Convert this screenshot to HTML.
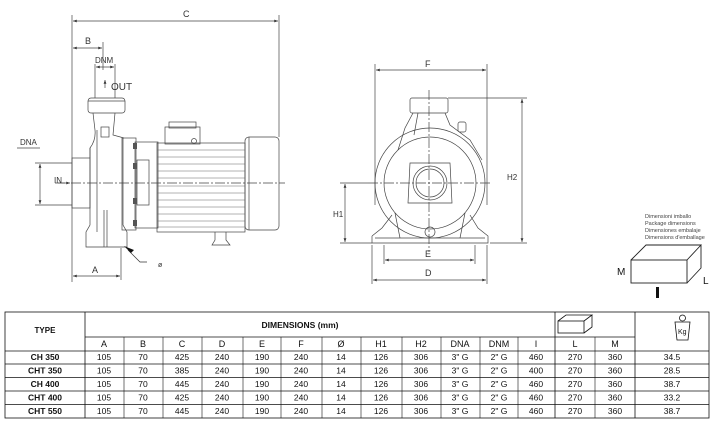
<!DOCTYPE html>
<html><head><meta charset="utf-8"><style>
html,body{margin:0;padding:0;background:#fff;}
svg{display:block;font-family:"Liberation Sans",sans-serif;}
</style></head><body>
<svg width="714" height="429" viewBox="0 0 714 429" xmlns="http://www.w3.org/2000/svg">
<defs>
<marker id="a" viewBox="0 0 8 6" refX="8" refY="3" markerWidth="6" markerHeight="4" orient="auto-start-reverse"><path d="M0,0L8,3L0,6z" fill="#333"/></marker>
</defs>
<g stroke="#444" stroke-width="0.7" fill="none">
<!-- LEFT VIEW extension & dims -->
<line x1="72" y1="15" x2="72" y2="282"/>
<line x1="279" y1="15" x2="279" y2="137"/>
<line x1="73" y1="21" x2="278" y2="21" marker-start="url(#a)" marker-end="url(#a)"/>
<line x1="103" y1="42" x2="103" y2="70"/>
<line x1="73" y1="48" x2="102" y2="48" marker-start="url(#a)" marker-end="url(#a)"/>
<line x1="95" y1="64" x2="95" y2="98"/><line x1="115" y1="64" x2="115" y2="98"/>
<line x1="96" y1="67" x2="114" y2="67" marker-start="url(#a)" marker-end="url(#a)"/>
<line x1="105" y1="88" x2="105" y2="80" marker-end="url(#a)"/>
<line x1="17" y1="148" x2="40" y2="148"/>
<line x1="35" y1="163" x2="72" y2="163"/><line x1="35" y1="205" x2="72" y2="205"/>
<line x1="40" y1="164" x2="40" y2="204" marker-start="url(#a)" marker-end="url(#a)"/>
<line x1="121" y1="248" x2="121" y2="280"/>
<line x1="73" y1="276" x2="120" y2="276" marker-start="url(#a)" marker-end="url(#a)"/>
<line x1="55" y1="183" x2="285" y2="183" stroke-dasharray="10,2,2,2"/>
<line x1="58" y1="183" x2="70" y2="183" marker-end="url(#a)"/>
<!-- pump -->
<rect x="88" y="98" width="37" height="15" rx="3"/>
<line x1="88" y1="101" x2="125" y2="101"/>
<path d="M93,113 L95,130 Q96,140 90,148 L90,158 M115,113 L113,135 L124,138"/>
<rect x="72" y="158" width="18" height="50"/>
<path d="M90,148 L90,225 L86,232 L86,247 L127,247 L127,232 L123,225 L123,138"/>
<line x1="97" y1="130" x2="97" y2="232"/><line x1="104" y1="210" x2="104" y2="247"/><line x1="107" y1="210" x2="107" y2="247"/>
<rect x="101" y="127" width="8" height="10"/>
<rect x="122" y="138" width="14" height="92"/>
<rect x="135" y="142" width="23" height="86"/>
<rect x="137" y="160" width="12" height="45"/>
<rect x="157" y="143" width="88" height="89"/>
<rect x="165" y="127" width="35" height="17"/>
<rect x="169" y="122" width="27" height="6"/>
<circle cx="194" cy="141" r="2.5"/>
<rect x="245" y="137" width="34" height="93" rx="4"/>
<line x1="249" y1="137" x2="249" y2="230"/>
<path d="M215,232 L215,240 L212,245 L230,245 L226,240 L226,232"/>
</g>
<g stroke="#666" stroke-width="0.5">
<line x1="157" y1="150" x2="245" y2="150"/><line x1="157" y1="157" x2="245" y2="157"/><line x1="157" y1="164" x2="245" y2="164"/><line x1="157" y1="171" x2="245" y2="171"/><line x1="157" y1="178" x2="245" y2="178"/><line x1="157" y1="186" x2="245" y2="186"/><line x1="157" y1="193" x2="245" y2="193"/><line x1="157" y1="200" x2="245" y2="200"/><line x1="157" y1="207" x2="245" y2="207"/><line x1="157" y1="214" x2="245" y2="214"/><line x1="157" y1="221" x2="245" y2="221"/><line x1="157" y1="227" x2="245" y2="227"/>
</g>
<g fill="#555"><rect x="133" y="143" width="4" height="6"/><rect x="133" y="163" width="4" height="6"/><rect x="133" y="198" width="4" height="6"/><rect x="133" y="220" width="4" height="6"/></g>
<path d="M147,262 L140,262 L128,250" stroke="#333" stroke-width="0.7" fill="none"/>
<path d="M124,246 L134,250 L131,253z" fill="#111"/>
<!-- RIGHT VIEW -->
<g stroke="#444" stroke-width="0.7" fill="none">
<line x1="375" y1="64" x2="375" y2="205"/><line x1="487" y1="64" x2="487" y2="205"/>
<line x1="376" y1="70" x2="486" y2="70" marker-start="url(#a)" marker-end="url(#a)"/>
<line x1="448" y1="98" x2="527" y2="98"/><line x1="490" y1="243" x2="527" y2="243"/>
<line x1="522" y1="99" x2="522" y2="242" marker-start="url(#a)" marker-end="url(#a)"/>
<line x1="340" y1="183" x2="368" y2="183"/><line x1="340" y1="243" x2="372" y2="243"/>
<line x1="345" y1="184" x2="345" y2="242" marker-start="url(#a)" marker-end="url(#a)"/>
<line x1="384" y1="245" x2="384" y2="264"/><line x1="475" y1="245" x2="475" y2="264"/>
<line x1="385" y1="260" x2="474" y2="260" marker-start="url(#a)" marker-end="url(#a)"/>
<line x1="372" y1="245" x2="372" y2="284"/><line x1="487" y1="245" x2="487" y2="284"/>
<line x1="373" y1="280" x2="486" y2="280" marker-start="url(#a)" marker-end="url(#a)"/>
<line x1="429" y1="90" x2="429" y2="252" stroke-dasharray="10,2,2,2"/>
<line x1="368" y1="183" x2="492" y2="183" stroke-dasharray="10,2,2,2"/>
<rect x="410" y="98" width="38" height="15" rx="2"/>
<path d="M413,113 L405,128 L398,150 M445,113 L450,125 L470,140 L482,160"/>
<path d="M418,113 L414,135"/>
<circle cx="430" cy="183" r="55"/>
<circle cx="430" cy="183" r="46"/>
<path d="M410,163 L450,163 L452,203 L408,203z"/>
<circle cx="430" cy="183" r="17"/><circle cx="430" cy="183" r="14"/>
<rect x="458" y="122" width="8" height="10" rx="2"/>
<path d="M372,236 L372,243 L488,243 L488,236 L478,228 L470,215 M372,236 L382,228 L392,215"/>
<line x1="375" y1="238" x2="485" y2="238"/>
<circle cx="430" cy="232" r="5"/>
<line x1="395" y1="213" x2="400" y2="238"/><line x1="465" y1="213" x2="460" y2="238"/>
<!-- package box -->
<rect x="631" y="260" width="56" height="23" stroke="#222" stroke-width="0.9"/>
<path d="M631,260 L646,245 L701,245 L687,260 M701,245 L701,268 L687,283" stroke="#222" stroke-width="0.9"/>
</g>
<rect x="656" y="287" width="3" height="11" fill="#111"/>
<g fill="#333" font-size="9">
<text x="183" y="17">C</text><text x="85" y="44">B</text><text x="95" y="63" font-size="8">DNM</text>
<text x="111" y="90" font-size="10">OUT</text><text x="20" y="145" font-size="8">DNA</text>
<text x="54" y="183" font-size="8">IN</text><text x="158" y="267" font-size="7">ø</text>
<text x="92" y="273">A</text>
<text x="425" y="67">F</text><text x="507" y="180" font-size="8">H2</text><text x="333" y="217" font-size="8">H1</text>
<text x="425" y="257">E</text><text x="425" y="276">D</text>
<text x="617" y="275" font-size="10" fill="#111">M</text><text x="703" y="284" font-size="10" fill="#111">L</text>
</g>
<g fill="#444" font-size="5.5"><text x="645" y="218">Dimensioni imballo</text><text x="645" y="225">Package dimensions</text><text x="645" y="232">Dimensiones embalaje</text><text x="645" y="239">Dimensions d'emballage</text></g>
<!-- TABLE -->
<g stroke="#111" stroke-width="0.8" fill="none">
<rect x="5" y="312" width="704" height="106"/>
<line x1="85" y1="312" x2="85" y2="418"/><line x1="555" y1="312" x2="555" y2="418"/><line x1="635" y1="312" x2="635" y2="418"/>
<line x1="85" y1="337" x2="635" y2="337"/>
<line x1="5" y1="351" x2="709" y2="351"/><line x1="5" y1="364" x2="709" y2="364"/><line x1="5" y1="377.5" x2="709" y2="377.5"/><line x1="5" y1="391" x2="709" y2="391"/><line x1="5" y1="404.5" x2="709" y2="404.5"/>
</g>
<g stroke="#111" stroke-width="0.6">
<line x1="124" y1="337" x2="124" y2="418"/><line x1="163" y1="337" x2="163" y2="418"/><line x1="202" y1="337" x2="202" y2="418"/><line x1="243" y1="337" x2="243" y2="418"/><line x1="281" y1="337" x2="281" y2="418"/><line x1="322" y1="337" x2="322" y2="418"/><line x1="361" y1="337" x2="361" y2="418"/><line x1="402" y1="337" x2="402" y2="418"/><line x1="441" y1="337" x2="441" y2="418"/><line x1="480" y1="337" x2="480" y2="418"/><line x1="518" y1="337" x2="518" y2="418"/><line x1="595" y1="337" x2="595" y2="418"/>
</g>
<g stroke="#111" stroke-width="0.8" fill="none">
<rect x="558" y="321" width="26" height="12"/><path d="M558,321 L566,315 L592,315 L584,321 M592,315 L592,327 L584,333"/>
<path d="M675,322 L690,322 L688,340 L677,340z"/><circle cx="682.5" cy="318" r="3"/>
</g>
<text x="678" y="334" font-size="7" fill="#111">Kg</text>
<g fill="#111" font-size="9" text-anchor="middle">
<text x="45" y="333" font-weight="bold" font-size="8">TYPE</text>
<text x="300" y="328" font-weight="bold" font-size="8.5">DIMENSIONS (mm)</text>
<text x="104" y="347">A</text><text x="143" y="347">B</text><text x="182" y="347">C</text><text x="222" y="347">D</text><text x="262" y="347">E</text><text x="301" y="347">F</text><text x="341" y="347">Ø</text><text x="381" y="347">H1</text><text x="421" y="347">H2</text><text x="460" y="347">DNA</text><text x="499" y="347">DNM</text><text x="536" y="347">I</text><text x="575" y="347">L</text><text x="615" y="347">M</text>
</g>
<g fill="#111" font-size="8.5" text-anchor="middle">
<g font-weight="bold"><text x="45" y="360">CH 350</text><text x="45" y="373.5">CHT 350</text><text x="45" y="387">CH 400</text><text x="45" y="400.5">CHT 400</text><text x="45" y="414">CHT 550</text></g>
<text x="104" y="360">105</text><text x="143" y="360">70</text><text x="182" y="360">425</text><text x="222" y="360">240</text><text x="262" y="360">190</text><text x="301" y="360">240</text><text x="341" y="360">14</text><text x="381" y="360">126</text><text x="421" y="360">306</text><text x="460" y="360">3" G</text><text x="499" y="360">2" G</text><text x="536" y="360">460</text><text x="575" y="360">270</text><text x="615" y="360">360</text><text x="672" y="360">34.5</text>
<text x="104" y="373.5">105</text><text x="143" y="373.5">70</text><text x="182" y="373.5">385</text><text x="222" y="373.5">240</text><text x="262" y="373.5">190</text><text x="301" y="373.5">240</text><text x="341" y="373.5">14</text><text x="381" y="373.5">126</text><text x="421" y="373.5">306</text><text x="460" y="373.5">3" G</text><text x="499" y="373.5">2" G</text><text x="536" y="373.5">400</text><text x="575" y="373.5">270</text><text x="615" y="373.5">360</text><text x="672" y="373.5">28.5</text>
<text x="104" y="387">105</text><text x="143" y="387">70</text><text x="182" y="387">445</text><text x="222" y="387">240</text><text x="262" y="387">190</text><text x="301" y="387">240</text><text x="341" y="387">14</text><text x="381" y="387">126</text><text x="421" y="387">306</text><text x="460" y="387">3" G</text><text x="499" y="387">2" G</text><text x="536" y="387">460</text><text x="575" y="387">270</text><text x="615" y="387">360</text><text x="672" y="387">38.7</text>
<text x="104" y="400.5">105</text><text x="143" y="400.5">70</text><text x="182" y="400.5">425</text><text x="222" y="400.5">240</text><text x="262" y="400.5">190</text><text x="301" y="400.5">240</text><text x="341" y="400.5">14</text><text x="381" y="400.5">126</text><text x="421" y="400.5">306</text><text x="460" y="400.5">3" G</text><text x="499" y="400.5">2" G</text><text x="536" y="400.5">460</text><text x="575" y="400.5">270</text><text x="615" y="400.5">360</text><text x="672" y="400.5">33.2</text>
<text x="104" y="414">105</text><text x="143" y="414">70</text><text x="182" y="414">445</text><text x="222" y="414">240</text><text x="262" y="414">190</text><text x="301" y="414">240</text><text x="341" y="414">14</text><text x="381" y="414">126</text><text x="421" y="414">306</text><text x="460" y="414">3" G</text><text x="499" y="414">2" G</text><text x="536" y="414">460</text><text x="575" y="414">270</text><text x="615" y="414">360</text><text x="672" y="414">38.7</text>
</g>
</svg>
</body></html>
